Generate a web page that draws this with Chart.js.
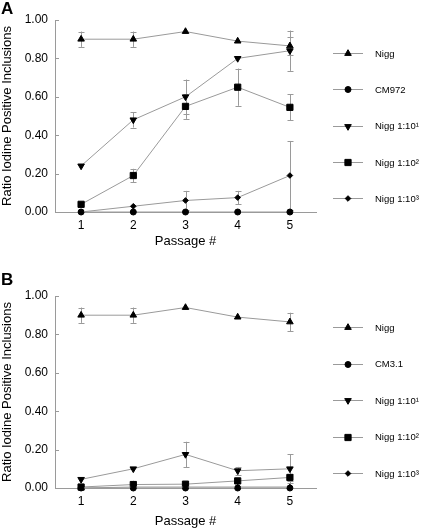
<!DOCTYPE html>
<html><head><meta charset="utf-8">
<script src="https://cdn.jsdelivr.net/npm/chart.js@4/dist/chart.umd.min.js"></script>
<style>
html,body{margin:0;padding:0;background:#fff;overflow:hidden;}
canvas{position:absolute;left:0;display:block;}
#cA{top:0;}
#cB{top:264px;}
</style></head><body>
<canvas id="cA" width="425" height="264"></canvas>
<canvas id="cB" width="425" height="265"></canvas>
<script>
// ---------- data ----------
const passages = ['1', '2', '3', '4', '5'];
const yTickValues = [0, 0.2, 0.4, 0.6, 0.8, 1.0];
const namesA = ['Nigg', 'CM972', 'Nigg 1:10¹', 'Nigg 1:10²', 'Nigg 1:10³'];
const namesB = ['Nigg', 'CM3.1', 'Nigg 1:10¹', 'Nigg 1:10²', 'Nigg 1:10³'];

// Panel A
const aNigg      = [0.90, 0.90, 0.94, 0.89, 0.865];
const aNiggErr   = [0.04, 0.04, 0, 0, 0.048];
const aCM972     = [0, 0, 0, 0, 0];
const aCM972Err  = [0, 0, 0, 0, 0];
const aNigg1     = [0.24, 0.48, 0.60, 0.80, 0.84];
const aNigg1Err  = [0, 0.04, 0.09, 0, 0.105];
const aNigg2     = [0.04, 0.19, 0.55, 0.65, 0.545];
const aNigg2Err  = [0, 0.035, 0.065, 0.097, 0.067];
const aNigg3     = [0, 0.03, 0.06, 0.075, 0.19];
const aNigg3Err  = [0, 0, 0.05, 0.035, 0.18];

// Panel B
const bNigg      = [0.90, 0.90, 0.94, 0.89, 0.865];
const bNiggErr   = [0.04, 0.04, 0, 0, 0.048];
const bCM31      = [0, 0, 0, 0, 0];
const bCM31Err   = [0, 0, 0, 0, 0];
const bNigg1     = [0.045, 0.10, 0.175, 0.09, 0.10];
const bNigg1Err  = [0, 0, 0.066, 0.02, 0.076];
const bNigg2     = [0.005, 0.018, 0.02, 0.037, 0.055];
const bNigg2Err  = [0, 0.02, 0, 0, 0.02];
const bNigg3     = [0, 0.005, 0.005, 0.005, 0.005];
const bNigg3Err  = [0, 0, 0, 0, 0];

// ---------- styling ----------
const GREY = '#9a9a9a';
const FONT = "'Liberation Sans', Arial, Helvetica, sans-serif";
const markerStyles = [
  {pointStyle: 'triangle', rotation: 0, radius: 3.8},
  {pointStyle: 'circle', rotation: 0, radius: 3},
  {pointStyle: 'triangle', rotation: 180, radius: 3.8},
  {pointStyle: 'rect', rotation: 0, radius: 4.4},
  {pointStyle: 'rectRot', rotation: 0, radius: 2.8}
];

function drawMarker(ctx, st, x, y) {
  if (Chart.helpers && Chart.helpers.drawPoint) {
    ctx.save();
    ctx.fillStyle = '#000'; ctx.strokeStyle = '#000'; ctx.lineWidth = 1;
    Chart.helpers.drawPoint(ctx, {pointStyle: st.pointStyle, rotation: st.rotation, radius: st.radius, borderWidth: 1}, x, y);
    ctx.restore();
  }
}

const customPlugin = {
  id: 'custom',
  beforeDatasetsDraw(chart) {
    const ctx = chart.ctx;
    const ys = chart.scales.y;
    // inward y ticks
    ctx.save();
    ctx.strokeStyle = GREY; ctx.lineWidth = 1;
    yTickValues.forEach(v => {
      const py = Math.round(ys.getPixelForValue(v)) + 0.5;
      ctx.beginPath(); ctx.moveTo(chart.chartArea.left, py); ctx.lineTo(chart.chartArea.left + 4, py); ctx.stroke();
    });
    // error bars
    chart.data.datasets.forEach((ds, di) => {
      const meta = chart.getDatasetMeta(di);
      ds.errors.forEach((e, i) => {
        if (!e) return;
        const pt = meta.data[i];
        const x = Math.round(pt.x) + 0.5;
        const yTop = ys.getPixelForValue(ds.data[i] + e);
        const yBot = ys.getPixelForValue(ds.data[i] - e);
        ctx.beginPath();
        ctx.moveTo(x, yTop); ctx.lineTo(x, yBot);
        ctx.moveTo(x - 3, Math.round(yTop) + 0.5); ctx.lineTo(x + 3, Math.round(yTop) + 0.5);
        ctx.moveTo(x - 3, Math.round(yBot) + 0.5); ctx.lineTo(x + 3, Math.round(yBot) + 0.5);
        ctx.stroke();
      });
    });
    ctx.restore();
  },
  afterDraw(chart) {
    const ctx = chart.ctx;
    const o = chart.options.plugins.custom;
    ctx.save();
    // panel letter
    ctx.fillStyle = '#000';
    ctx.font = 'bold 17px ' + FONT;
    ctx.textBaseline = 'alphabetic';
    ctx.textAlign = 'left';
    ctx.fillText(o.letter, 1, o.letterY);
    // legend
    chart.data.datasets.forEach((ds, i) => {
      const y = o.legendTop + i * o.legendStep;
      ctx.strokeStyle = GREY; ctx.lineWidth = 1;
      ctx.beginPath(); ctx.moveTo(333, Math.round(y) + 0.5); ctx.lineTo(363, Math.round(y) + 0.5); ctx.stroke();
      drawMarker(ctx, markerStyles[i], 348, Math.round(y) + 0.5);
      ctx.fillStyle = '#000';
      ctx.font = '9.5px ' + FONT;
      ctx.textBaseline = 'middle';
      ctx.fillText(ds.label, 375, y + 1);
    });
    ctx.restore();
  }
};

function makeDatasets(names, vals, errs) {
  return names.map((n, i) => ({
    label: n,
    data: vals[i],
    errors: errs[i],
    borderColor: GREY,
    borderWidth: 1,
    pointStyle: markerStyles[i].pointStyle,
    pointRotation: markerStyles[i].rotation,
    pointRadius: markerStyles[i].radius,
    pointHoverRadius: markerStyles[i].radius,
    pointBackgroundColor: '#000',
    pointBorderColor: '#000',
    pointBorderWidth: 1,
    clip: false,
    tension: 0,
    order: 5 - i
  }));
}

function makeChart(id, names, vals, errs, cfg) {
  return new Chart(document.getElementById(id), {
    type: 'line',
    data: {labels: passages, datasets: makeDatasets(names, vals, errs)},
    options: {
      responsive: false,
      animation: false,
      layout: {padding: {left: 0, right: 109, top: cfg.top, bottom: cfg.bottom}},
      plugins: {
        legend: {display: false},
        tooltip: {enabled: false},
        custom: {letter: cfg.letter, letterY: cfg.letterY, legendTop: cfg.legendTop, legendStep: cfg.legendStep}
      },
      scales: {
        x: {
          type: 'category',
          offset: true,
          grid: {display: false, drawTicks: false},
          border: {display: true, color: GREY, width: 1},
          ticks: {color: '#000', font: {family: FONT, size: 12}, padding: 6, maxRotation: 0},
          title: {display: true, text: 'Passage #', color: '#000', font: {family: FONT, size: 13}, padding: {top: 0, bottom: 0}},
          afterFit: s => { s.height = cfg.xh; }
        },
        y: {
          min: 0, max: 1,
          grid: {display: false, drawTicks: false},
          border: {display: true, color: GREY, width: 1},
          afterBuildTicks: s => { s.ticks = yTickValues.map(v => ({value: v})); },
          ticks: {color: '#000', font: {family: FONT, size: 12}, padding: 7, callback: v => Number(v).toFixed(2)},
          title: {display: true, text: 'Ratio Iodine Positive Inclusions', color: '#000', font: {family: FONT, size: 13, lineHeight: 1.1}, padding: {top: 0, bottom: 0}},
          afterFit: s => { s.width = 55; }
        }
      }
    },
    plugins: [customPlugin]
  });
}

makeChart('cA', namesA,
  [aNigg, aCM972, aNigg1, aNigg2, aNigg3],
  [aNiggErr, aCM972Err, aNigg1Err, aNigg2Err, aNigg3Err],
  {top: 20, bottom: 15, xh: 37, letter: 'A', letterY: 14, legendTop: 53, legendStep: 36.3});

makeChart('cB', namesB,
  [bNigg, bCM31, bNigg1, bNigg2, bNigg3],
  [bNiggErr, bCM31Err, bNigg1Err, bNigg2Err, bNigg3Err],
  {top: 32, bottom: 0, xh: 41, letter: 'B', letterY: 21, legendTop: 63, legendStep: 36.5});
</script>
</body></html>
